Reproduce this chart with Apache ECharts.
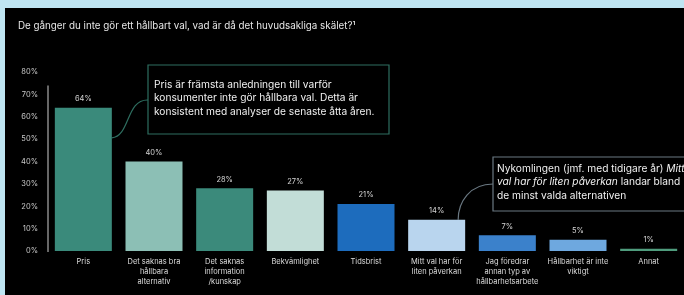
<!DOCTYPE html>
<html>
<head>
<meta charset="utf-8">
<script src="https://cdn.jsdelivr.net/npm/echarts@6/dist/echarts.min.js"></script>
<style>
  html, body { margin: 0; padding: 0; background: #bfe5f2; }
  .panel { position: absolute; left: 5px; top: 8px; right: 0; bottom: 0; background: #000; }
  #chart { position: absolute; left: 0; top: 0; width: 684px; height: 295px; }
</style>
</head>
<body>
<div class="panel"></div>
<div id="chart"></div>
<script>
// data
const categories = [
  "Pris",
  "Det saknas bra\nhållbara\nalternativ",
  "Det saknas\ninformation\n/kunskap",
  "Bekvämlighet",
  "Tidsbrist",
  "Mitt val har för\nliten påverkan",
  "Jag föredrar\nannan typ av\nhållbarhetsarbete",
  "Hållbarhet är inte\nviktigt",
  "Annat"
];
const values = [64, 40, 28, 27, 21, 14, 7, 5, 1];
const barColors = ["#3a8a7b", "#8cbfb5", "#3b8a7b", "#c2ddd7", "#1d6cbd", "#b9d5ee", "#3b81cb", "#6ea8df", "#4f9c7d"];
const yTicks = { min: 0, max: 80, step: 10 };

const fontFamily = "Inter, 'Noto Sans', sans-serif";
const chart = echarts.init(document.getElementById("chart"));

const option = {
  backgroundColor: "transparent",
  animation: false,
  title: {
    text: "De gånger du inte gör ett hållbart val, vad är då det huvudsakliga skälet?¹",
    left: 13,
    top: 16,
    textStyle: { color: "#e6e6e6", fontSize: 9.8, fontWeight: "normal", fontFamily }
  },
  grid: { left: 48, top: 72, width: 642, height: 179, containLabel: false },
  xAxis: {
    type: "category",
    data: categories,
    axisLine: { show: false },
    axisTick: { show: false },
    axisLabel: { color: "#dcdcdc", fontSize: 7.5, lineHeight: 10, margin: 6, interval: 0, fontFamily }
  },
  yAxis: {
    type: "value",
    min: yTicks.min,
    max: yTicks.max,
    interval: yTicks.step,
    axisLine: { show: false },
    axisTick: { show: false },
    splitLine: { show: false },
    axisLabel: { color: "#c8c8c8", fontSize: 7.5, margin: 10, formatter: "{value}%", fontFamily }
  },
  series: [
    {
      type: "bar",
      barWidth: 57,
      data: values.map((v, i) => ({ value: v, itemStyle: { color: barColors[i] } })),
      label: {
        show: true,
        position: "top",
        distance: 5,
        color: "#d4d4d4",
        fontSize: 7.5,
        fontFamily,
        formatter: "{c}%"
      }
    }
  ]
};
chart.setOption(option);

// annotations, hooked onto the bars through the chart's own scale
const top0 = chart.convertToPixel({ seriesIndex: 0 }, [0, values[0]]);
const top5 = chart.convertToPixel({ seriesIndex: 0 }, [5, values[5]]);
const axisTop = chart.convertToPixel({ yAxisIndex: 0 }, 74);
const axisBottom = chart.convertToPixel({ yAxisIndex: 0 }, 0);
const half = 28.5;

chart.setOption({
  graphic: [
    {
      type: "line",
      shape: { x1: 48, y1: axisTop, x2: 48, y2: axisBottom + 1 },
      style: { stroke: "#8a8a8a", lineWidth: 1.5 }
    },
    {
      type: "rect",
      shape: { x: 148, y: 65, width: 241, height: 69 },
      style: { fill: "transparent", stroke: "#2e6e60", lineWidth: 1.2 }
    },
    {
      type: "text",
      x: 154, y: 78,
      style: {
        text: "Pris är främsta anledningen till varför\nkonsumenter inte gör hållbara val. Detta är\nkonsistent med analyser de senaste åtta åren.",
        fill: "#f0f0f0", fontSize: 10.2, lineHeight: 13.5, fontFamily, verticalAlign: "top"
      }
    },
    {
      type: "bezierCurve",
      shape: {
        x1: 148, y1: 100,
        cpx1: 126, cpy1: 99,
        cpx2: 130, cpy2: top0[1] + 29,
        x2: top0[0] + half, y2: top0[1] + 30
      },
      style: { stroke: "#2e6e60", lineWidth: 1.2, fill: null }
    },
    {
      type: "rect",
      shape: { x: 493, y: 157, width: 200, height: 54 },
      style: { fill: "transparent", stroke: "#6a7882", lineWidth: 1.2 }
    },
    {
      type: "text",
      x: 497, y: 162,
      style: {
        text: "Nykomlingen (jmf. med tidigare år) {i|Mitt}\n{i|val har för liten påverkan} landar bland\nde minst valda alternativen",
        fill: "#f0f0f0", fontSize: 10.2, lineHeight: 13.5, fontFamily, verticalAlign: "top",
        rich: { i: { fontStyle: "italic", fill: "#f0f0f0", fontSize: 10.2, fontFamily } }
      }
    },
    {
      type: "bezierCurve",
      shape: {
        x1: 493, y1: 184,
        cpx1: 470, cpy1: 184,
        cpx2: top5[0] + half - 7, cpy2: top5[1] - 18,
        x2: top5[0] + half - 7, y2: top5[1]
      },
      style: { stroke: "#6a7882", lineWidth: 1.2, fill: null }
    }
  ]
});
</script>
</body>
</html>
